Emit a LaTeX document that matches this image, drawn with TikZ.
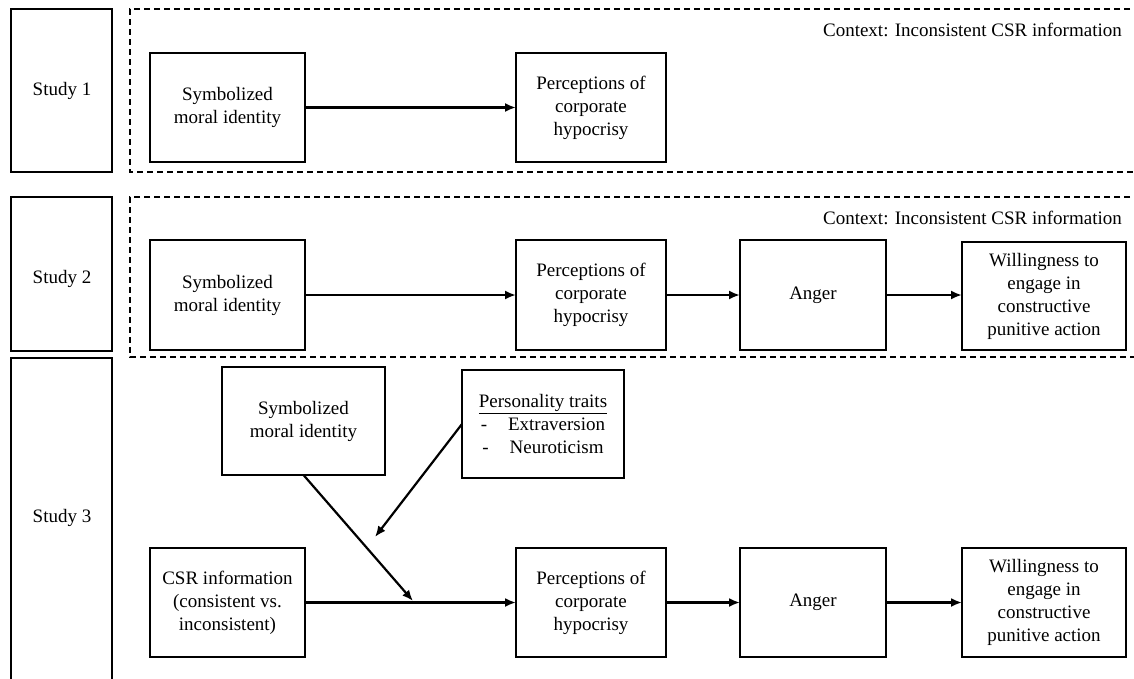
\documentclass[tikz,border=0pt]{standalone}
\usepackage{fontspec}
\setmainfont{Liberation Serif}
\usetikzlibrary{arrows.meta}

\begin{document}
\begin{tikzpicture}[x=1pt,y=-1pt]
% définition des styles
\tikzstyle{boite}=[rectangle,draw,line width=1.4pt,align=center,inner sep=0pt,outer sep=0pt,font=\fontsize{19}{23}\selectfont]
\tikzstyle{etude}=[draw,line width=1.4pt]
\tikzstyle{contexte}=[draw,dash pattern=on 6pt off 4pt,line width=1.2pt]
\tikzstyle{fleche}=[-{Latex[length=11pt,width=9pt]},line width=2.2pt]
\tikzstyle{texte}=[inner sep=0pt,font=\fontsize{19}{23}\selectfont]
\useasboundingbox (0,0) rectangle (1134,678);
\clip (0,0) rectangle (1134,678);
% les études
\draw[etude] (11,9) rectangle (112,172);
\draw[etude] (11,197) rectangle (112,351);
\draw[etude] (11,358) rectangle (112,700);
\node[texte] (e1) at (62,91) {Study 1};
\node[texte] (e2) at (62,279) {Study 2};
\node[texte] (e3) at (62,518) {Study 3};
% les contextes
\draw[contexte] (1140,9) -- (130,9) -- (130,172) -- (1140,172);
\draw[contexte] (1140,197) -- (130,197) -- (130,357) -- (1140,357);
\node[texte,anchor=east] (c1) at (1122,30) {Context: Inconsistent CSR information};
\node[texte,anchor=east] (c2) at (1122,218) {Context: Inconsistent CSR information};
% les nœuds (étude 1)
\node[boite,minimum width=155pt,minimum height=109pt] (sym1) at (227.5,107.5) {Symbolized\\moral identity};
\node[boite,minimum width=150pt,minimum height=109pt] (hyp1) at (591,107.5) {Perceptions of\\corporate\\hypocrisy};
% les nœuds (étude 2)
\node[boite,minimum width=155pt,minimum height=110pt] (sym2) at (227.5,295) {Symbolized\\moral identity};
\node[boite,minimum width=150pt,minimum height=110pt] (hyp2) at (591,295) {Perceptions of\\corporate\\hypocrisy};
\node[boite,minimum width=146pt,minimum height=110pt] (col2) at (813,295) {Anger};
\node[boite,minimum width=164pt,minimum height=108pt] (vol2) at (1044,296) {Willingness to\\engage in\\constructive\\punitive action};
% les nœuds (étude 3)
\node[boite,minimum width=163pt,minimum height=108pt] (sym3) at (303.5,421) {Symbolized\\moral identity};
\node[boite,minimum width=162pt,minimum height=108pt] (trait) at (543,424) {\underline{Personality traits}\\-\hspace{1.1em}Extraversion\\-\hspace{1.1em}Neuroticism};
\node[boite,minimum width=155pt,minimum height=109pt] (csr) at (227.5,602.5) {CSR information\\(consistent vs.\\inconsistent)};
\node[boite,minimum width=150pt,minimum height=109pt] (hyp3) at (591,602.5) {Perceptions of\\corporate\\hypocrisy};
\node[boite,minimum width=146pt,minimum height=109pt] (col3) at (813,602.5) {Anger};
\node[boite,minimum width=164pt,minimum height=109pt] (vol3) at (1044,602.5) {Willingness to\\engage in\\constructive\\punitive action};
\coordinate (m1) at (413,601);
\coordinate (m2) at (375,537);
% les flèches
\draw[fleche] (sym1)--(hyp1);
\draw[fleche] (sym2)--(hyp2);
\draw[fleche] (hyp2)--(col2);
\draw[fleche] (col2)--(vol2.west|-col2);
\draw[fleche] (csr)--(hyp3);
\draw[fleche] (hyp3)--(col3);
\draw[fleche] (col3)--(vol3);
\draw[fleche] (sym3.south)--(m1);
\draw[fleche] (trait.west)--(m2);
\end{tikzpicture}
\end{document}
